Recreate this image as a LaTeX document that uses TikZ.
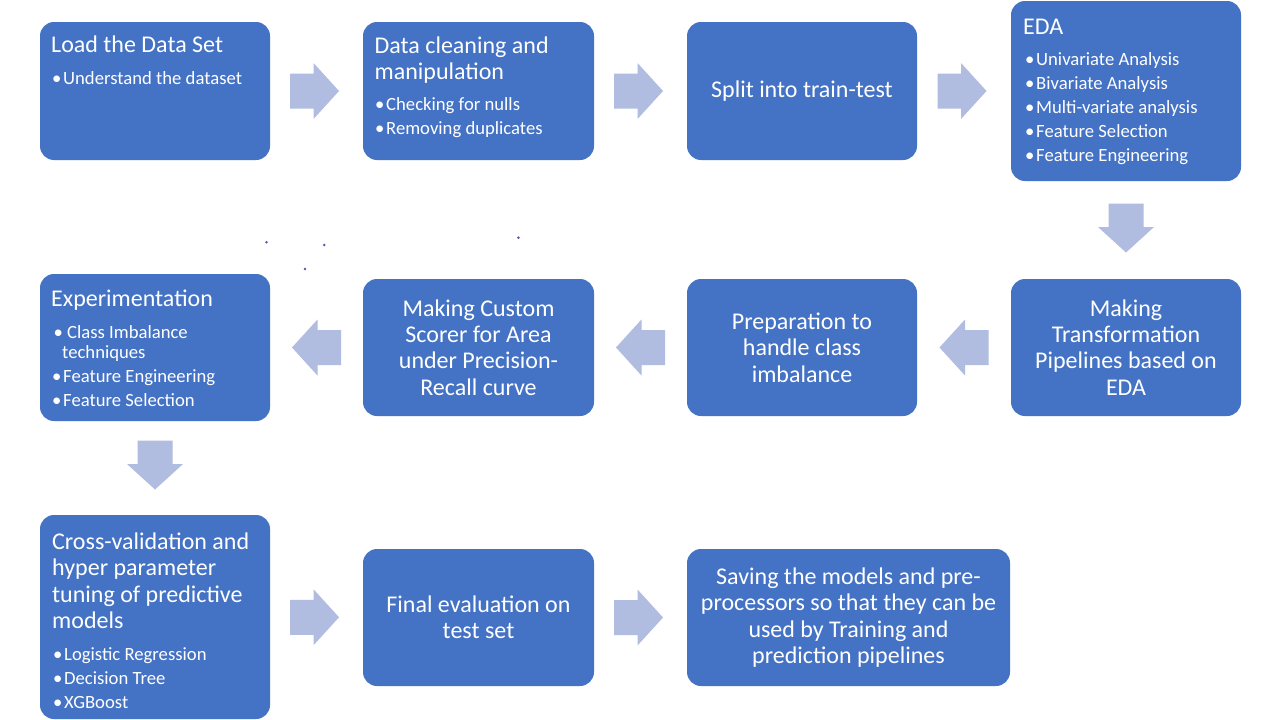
\documentclass[tikz,border=0pt]{standalone}
\usepackage{fontspec}
\setmainfont{Carlito}
\usetikzlibrary{calc}
\definecolor{boxblue}{HTML}{4472C4}
\definecolor{arrowblue}{HTML}{B0BCE0}
\definecolor{dotcol}{HTML}{5A52A8}
\newcommand\ttlfont{\fontsize{24}{26.3}\selectfont}
\newcommand\bulfont{\fontsize{18.67}{20.5}\selectfont}
\newcommand\bul{\makebox[11pt][l]{•}}
\newcommand\tstrut{\rule{0pt}{18pt}}
\newcommand\bstrut{\rule{0pt}{14pt}}
\begin{document}
\begin{tikzpicture}[x=1pt,y=-1pt,
  box/.style={fill=boxblue, rounded corners=14pt, inner sep=0pt, draw=none},
  ttl/.style={anchor=north west, inner sep=0pt, align=left, font=\ttlfont, text=white},
  bullets/.style={anchor=north west, inner sep=0pt, align=left, font=\bulfont, text=white},
  ctext/.style={align=center, font=\ttlfont, text=white, inner sep=0pt},
  blockarrow/.pic={\fill[arrowblue] (-24.5,-17.5) -- (-1,-17.5) -- (-1,-28) -- (24.5,0) -- (-1,28) -- (-1,17.5) -- (-24.5,17.5) -- cycle;}
]
\useasboundingbox[fill=white] (0,0) rectangle (1280,720);

% boxes
\node[box, minimum width=230pt, minimum height=138pt] (load) at (155,91) {};
\node[box, minimum width=231pt, minimum height=138pt] (clean) at (478.5,91) {};
\node[box, minimum width=230pt, minimum height=138pt] (split) at (802,91) {};
\node[box, minimum width=230pt, minimum height=180pt] (eda) at (1126,91) {};
\node[box, minimum width=230pt, minimum height=147pt] (exp) at (155,347.5) {};
\node[box, minimum width=231pt, minimum height=137pt] (scorer) at (478.5,347.5) {};
\node[box, minimum width=230pt, minimum height=137pt] (prep) at (802,347.5) {};
\node[box, minimum width=230pt, minimum height=137pt] (trans) at (1126,347.5) {};
\node[box, minimum width=230pt, minimum height=204pt] (cv) at (155,617) {};
\node[box, minimum width=231pt, minimum height=137pt] (final) at (478.5,617.5) {};
\node[box, minimum width=323pt, minimum height=137pt] (save) at (848.5,617.5) {};

% texts
\node[ttl] (loadt) at (51,34.5) {\tstrut Load the Data Set};
\node[bullets] (loadb) at (52,70) {\bstrut\bul Understand the dataset};

\node[ttl] (cleant) at (374.5,35) {\tstrut Data cleaning and\\manipulation};
\node[bullets] (cleanb) at (375,96.3) {\bstrut\bul Checking for nulls\\[3.5pt]\bul Removing duplicates};

\node[ctext] (splitt) at ($(split.center)+(0,0.5)$) {Split into train-test};

\node[ttl] (edat) at (1023,16.5) {\tstrut EDA};
\node[bullets] (edab) at (1025,51.5) {\bstrut\bul Univariate Analysis\\[3.5pt]\bul Bivariate Analysis\\[3.5pt]\bul Multi-variate analysis\\[3.5pt]\bul Feature Selection\\[3.5pt]\bul Feature Engineering};

\node[ttl] (expt) at (51,288.5) {\tstrut Experimentation};
\node[bullets] (expb) at (52,324) {\bstrut\hspace*{1.5pt}\makebox[13.5pt][l]{•}Class Imbalance\\\hspace*{10pt}techniques\\[3.5pt]\bul Feature Engineering\\[3.5pt]\bul Feature Selection};

\node[ctext] (scorert) at (scorer.center) {Making Custom\\Scorer for Area\\under Precision-\\Recall curve};
\node[ctext] (prept) at (prep.center) {Preparation to\\handle class\\imbalance};
\node[ctext] (transt) at (trans.center) {Making\\Transformation\\Pipelines based on\\EDA};

\node[ttl] (cvt) at (52,531.3) {\tstrut Cross-validation and\\hyper parameter\\tuning of predictive\\models};
\node[bullets] (cvb) at (53,646.3) {\bstrut\bul Logistic Regression\\[3.5pt]\bul Decision Tree\\[3.5pt]\bul XGBoost};

\node[ctext] (finalt) at (final.center) {Final evaluation on\\test set};
\node[ctext] (savet) at (save.center) {Saving the models and pre-\\processors so that they can be\\used by Training and\\prediction pipelines};

% block arrows
\pic at ($(load.east)!0.5!(clean.west)+(-2,0)$) {blockarrow};
\pic at ($(clean.east)!0.5!(split.west)+(-2,0)$) {blockarrow};
\pic at ($(split.east)!0.5!(eda.west)+(-2,0)$) {blockarrow};
\pic[rotate=-90] at ($(eda.south)!0.5!(trans.north)+(0,-2)$) {blockarrow};
\pic[rotate=180] at ($(trans.west)!0.5!(prep.east)$) {blockarrow};
\pic[rotate=180] at ($(prep.west)!0.5!(scorer.east)$) {blockarrow};
\pic[rotate=180] at ($(scorer.west)!0.5!(exp.east)$) {blockarrow};
\pic[rotate=-90] at ($(exp.south)!0.5!(cv.north)+(0,-3)$) {blockarrow};
\pic at ($(cv.east)!0.5!(final.west)+(-2,0)$) {blockarrow};
\pic at ($(final.east)!0.5!(save.west)+(-2,0)$) {blockarrow};

% stray dots
\fill[dotcol] (266.5,242.3) circle (1.4);
\fill[dotcol] (324.3,245) circle (1.4);
\fill[dotcol] (305,269) circle (1.4);
\fill[dotcol] (518.4,237.7) circle (1.4);
\end{tikzpicture}
\end{document}
